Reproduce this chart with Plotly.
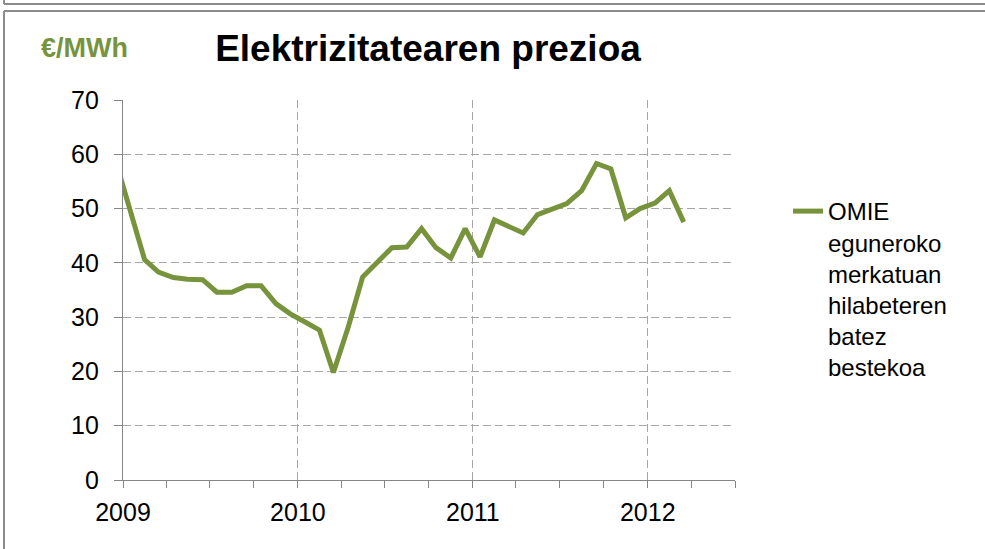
import plotly.graph_objects as go

# Monthly averages (mid-month), Dec 2008 point only feeds the clipped start of the line
months = ["2008-12-16",
          "2009-01-16", "2009-02-15", "2009-03-16", "2009-04-16", "2009-05-16", "2009-06-16",
          "2009-07-16", "2009-08-16", "2009-09-16", "2009-10-16", "2009-11-16", "2009-12-16",
          "2010-01-16", "2010-02-15", "2010-03-16", "2010-04-16", "2010-05-16", "2010-06-16",
          "2010-07-16", "2010-08-16", "2010-09-16", "2010-10-16", "2010-11-16", "2010-12-16",
          "2011-01-16", "2011-02-15", "2011-03-16", "2011-04-16", "2011-05-16", "2011-06-16",
          "2011-07-16", "2011-08-16", "2011-09-16", "2011-10-16", "2011-11-16", "2011-12-16",
          "2012-01-16", "2012-02-15", "2012-03-16"]
prices = [59.0,
          49.9, 40.6, 38.3, 37.3, 37.0, 36.9, 34.6, 34.6, 35.8, 35.8, 32.5, 30.6,
          29.1, 27.6, 19.8, 28.2, 37.4, 40.1, 42.8, 42.9, 46.3, 42.8, 40.9, 46.3,
          41.1, 47.9, 46.7, 45.5, 48.9, 50.0, 50.9, 53.3, 58.3, 57.3, 48.3, 50.0,
          51.0, 53.3, 47.5]
series_name = "OMIE<br>eguneroko<br>merkatuan<br>hilabeteren<br>batez<br>bestekoa"
title_text = "Elektrizitatearen prezioa"
unit_text = "€/MWh"
y_ticks = [0, 10, 20, 30, 40, 50, 60, 70]

GREEN = "#77933C"
GRID = "#a6a6a6"
AXIS = "#868686"
FONT = "Arial, Liberation Sans, sans-serif"

W, H = 985, 549
ML, MR, MT, MB = 123, 250, 100, 69
PW, PH = W - ML - MR, H - MT - MB


def px(x):
    return (x - ML) / PW


def py(y):
    return (H - MB - y) / PH


fig = go.Figure()
fig.add_trace(go.Scatter(
    x=months, y=prices, mode="lines", name=series_name,
    line=dict(color=GREEN, width=5),
))

fig.update_layout(
    width=W, height=H,
    margin=dict(l=ML, r=MR, t=MT, b=MB),
    paper_bgcolor="white", plot_bgcolor="white",
    font=dict(family=FONT, color="black", size=25),
    title=dict(text=title_text, x=428 / W, xref="container", xanchor="center",
               y=1 - 48 / H, yref="container", yanchor="middle",
               font=dict(family=FONT, size=37, weight="bold", color="black")),
    showlegend=True,
    legend=dict(x=px(788), xanchor="left", y=py(189), yanchor="top",
                valign="top", font=dict(family=FONT, size=24, color="black"),
                bgcolor="rgba(0,0,0,0)", tracegroupgap=0),
    xaxis=dict(
        type="date", range=["2009-01-01", "2012-07-01"],
        tickvals=["2009-01-01", "2010-01-01", "2011-01-01", "2012-01-01"],
        ticktext=["2009", "2010", "2011", "2012"],
        ticks="outside", ticklen=7, tickcolor=AXIS, tickwidth=1.3,
        showline=True, linecolor=AXIS, linewidth=1.3,
        showgrid=True, gridcolor=GRID, griddash="8px,4px", gridwidth=1.3,
        minor=dict(dtick="M3", tick0="2009-01-01", ticks="outside", ticklen=7,
                   tickcolor=AXIS, tickwidth=1.3, showgrid=False),
        ticklabelstandoff=3,
        tickfont=dict(size=25),
        zeroline=False,
    ),
    yaxis=dict(
        range=[0, 70], tickvals=y_ticks,
        ticks="outside", ticklen=8, tickcolor=AXIS, tickwidth=1.3,
        showline=True, linecolor=AXIS, linewidth=1.3,
        showgrid=True, gridcolor=GRID, griddash="8px,4px", gridwidth=1.3,
        ticklabelstandoff=10,
        tickfont=dict(size=25),
        zeroline=False,
    ),
    annotations=[dict(text=unit_text, xref="paper", yref="paper",
                      x=px(84), y=py(48), xanchor="center", yanchor="middle",
                      showarrow=False,
                      font=dict(family=FONT, size=27, weight="bold", color=GREEN))],
    shapes=[
        dict(type="line", xref="paper", yref="paper", x0=px(4), x1=px(985),
             y0=py(11), y1=py(11), line=dict(color="#8c8c8c", width=2)),
        dict(type="line", xref="paper", yref="paper", x0=px(4), x1=px(4),
             y0=py(11), y1=py(549), line=dict(color="#8c8c8c", width=2)),
        dict(type="line", xref="paper", yref="paper", x0=px(4), x1=px(985),
             y0=py(4), y1=py(4), line=dict(color="#8c8c8c", width=2)),
        dict(type="line", xref="paper", yref="paper", x0=px(4), x1=px(4),
             y0=py(0), y1=py(4), line=dict(color="#8c8c8c", width=2)),
    ],
)

fig.write_html("out.html", config={"displayModeBar": False},
               post_script="document.body.style.margin='0';")
